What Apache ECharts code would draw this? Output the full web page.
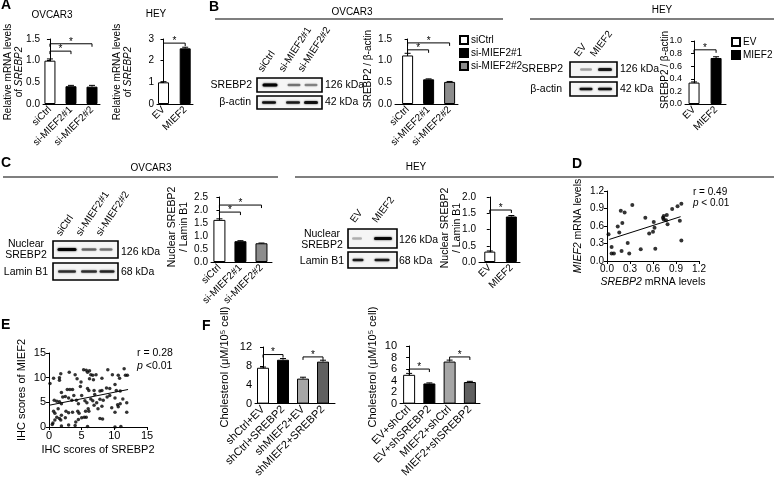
<!DOCTYPE html>
<html><head><meta charset="utf-8">
<script src="https://cdn.jsdelivr.net/npm/echarts@6/dist/echarts.min.js"></script>
<style>html,body{margin:0;padding:0;background:#fff}#c{width:774px;height:480px}</style>
</head><body><div id="c"></div>
<script>
// ---------------- DATA ----------------
const siCats = ['siCtrl', 'si-MIEF2#1', 'si-MIEF2#2'];
const heyCats = ['EV', 'MIEF2'];
const aOvcarVals = [1.0, 0.41, 0.40];
const aOvcarErr = [0.04, 0.02, 0.03];
const aOvcarSig = [[0, 1, 1.22], [0, 2, 1.39]];
const aHeyVals = [1.0, 2.57];
const aHeyErr = [0.03, 0.05];
const aHeySig = [[0, 1, 2.81]];
const bOvcarVals = [1.12, 0.57, 0.51];
const bOvcarErr = [0.05, 0.01, 0.01];
const bOvcarSig = [[0, 1, 1.25], [0, 2, 1.41]];
const bHeyVals = [0.34, 0.73];
const bHeyErr = [0.01, 0.02];
const bHeySig = [[0, 1, 0.86]];
const cOvcarVals = [1.62, 0.80, 0.72];
const cOvcarErr = [0.04, 0.02, 0.01];
const cOvcarSig = [[0, 1, 1.92], [0, 2, 2.19]];
const cHeyVals = [0.32, 1.40];
const cHeyErr = [0.02, 0.03];
const cHeySig = [[0, 1, 1.6]];
const fLeftCats = ['shCtrl+EV', 'shCtrl+SREBP2', 'shMIEF2+EV', 'shMIEF2+SREBP2'];
const fLeftVals = [7.6, 9.3, 5.3, 8.9];
const fLeftErr = [0.15, 0.25, 0.3, 0.3];
const fLeftSig = [[0, 1, 10.4], [2, 3, 9.9]];
const fRightCats = ['EV+shCtrl', 'EV+shSREBP2', 'MIEF2+shCtrl', 'MIEF2+shSREBP2'];
const fRightVals = [5.0, 3.5, 7.3, 3.75];
const fRightErr = [0.25, 0.1, 0.25, 0.12];
const fRightSig = [[0, 1, 6.0], [2, 3, 8.1]];
const dTicks = [0, 1.2, 0.3];
const dPoints = [[0.02,0.46],[0.06,0.24],[0.06,0.13],[0.09,0.13],[0.14,0.59],[0.16,0.49],[0.18,0.86],[0.23,0.83],[0.20,0.65],[0.19,0.17],[0.27,0.31],[0.29,0.13],[0.33,0.96],[0.44,0.20],[0.50,0.74],[0.55,0.47],[0.60,0.50],[0.62,0.57],[0.61,0.67],[0.63,0.21],[0.73,0.74],[0.74,0.71],[0.74,0.77],[0.78,0.79],[0.77,0.70],[0.79,0.63],[0.85,0.89],[0.92,0.94],[0.97,0.98],[0.95,0.69],[0.97,0.35]];
const dFit = [[0.03, 0.37], [0.96, 0.76]];
const eTicks = [0, 15, 5];
const ePoints = [[0.15,8.8],[0.7,9.9],[1.8,10.8],[1.6,10.0],[1.6,9.5],[3.1,11.1],[4.0,10.6],[4.3,9.8],[5.3,11.6],[5.7,11.5],[5.9,11.1],[6.2,11.4],[6.4,10.6],[6.7,10.5],[7.2,10.6],[6.2,9.8],[6.8,9.6],[4.9,9.1],[4.8,8.2],[9.0,11.6],[9.7,10.6],[10.6,10.5],[10.8,9.9],[11.5,11.8],[11.7,10.5],[12.0,10.5],[8.1,9.9],
[2.8,7.6],[3.2,7.6],[3.6,7.6],[5.9,7.8],[6.1,7.4],[6.9,7.4],[7.8,7.3],[8.1,7.4],[8.8,7.9],[9.3,7.8],[10.1,8.6],[10.3,7.4],[10.9,7.3],[1.9,7.0],
[0.8,5.4],[1.2,5.2],[1.6,5.1],[1.9,4.7],[2.1,6.1],[2.5,6.2],[3.0,5.9],[3.8,6.4],[4.2,5.4],[4.5,4.7],[5.5,5.3],[5.8,4.9],[6.4,5.7],[6.7,5.3],[7.0,6.6],[7.8,5.6],[8.3,5.4],[8.9,6.1],[9.3,6.4],[10.1,5.9],[10.9,4.7],[11.3,5.7],[11.9,4.9],[10.5,4.5],[7.3,4.9],[5.0,6.4],[3.5,5.4],
[0.7,3.2],[0.9,2.8],[1.4,3.7],[2.6,3.2],[3.0,2.9],[3.6,3.0],[4.4,3.2],[4.6,2.8],[5.6,3.2],[6.0,3.7],[6.1,3.2],[7.5,3.7],[8.1,4.2],[9.6,3.9],[10.1,3.0],[11.9,3.0],[10.6,4.1],[6.9,4.4],
[1.2,2.0],[1.6,1.7],[1.9,2.4],[1.8,1.4],[2.5,1.9],[4.5,1.5],[5.0,1.9],[5.4,2.0],[5.7,2.0],[7.8,1.7],[8.2,1.6],[4.1,1.0],[0.6,0.8],[0.9,1.4],
[0.5,0.5],[1.9,0.2],[3.0,0.4],[4.0,0.3],[5.9,0.1],[10.1,0.0],[11.0,0.1]];
const eFit = [[0, 4.4], [12.1, 7.6]];

// ---------------- STYLE ----------------
const FONT = '"Liberation Sans", Arial, sans-serif';
const WHITE = '#ffffff', BLACK = '#000000', GREY = '#8c8c8c', LGREY = '#a6a6a6', DGREY = '#606060';
const chart = echarts.init(document.getElementById('c'), null, {renderer: 'canvas'});

function errRender(params, api) {
  const x = api.value(0), v = api.value(1), e = api.value(2);
  const p0 = api.coord([x, v]), p1 = api.coord([x, v + e]);
  return {type: 'group', children: [
    {type: 'line', shape: {x1: p0[0], y1: p0[1], x2: p1[0], y2: p1[1]}, style: {stroke: '#000', lineWidth: 1}},
    {type: 'line', shape: {x1: p1[0] - 3, y1: p1[1], x2: p1[0] + 3, y2: p1[1]}, style: {stroke: '#000', lineWidth: 1}}
  ]};
}
function sigRender(params, api) {
  const a = api.coord([api.value(0), api.value(2)]), b = api.coord([api.value(1), api.value(2)]);
  const d = 3;
  return {type: 'group', children: [
    {type: 'polyline', shape: {points: [[a[0], a[1] + d], [a[0], a[1]], [b[0], b[1]], [b[0], b[1] + d]]}, style: {stroke: '#000', fill: null, lineWidth: 1}},
    {type: 'text', style: {text: '*', x: (a[0] + b[0]) / 2, y: a[1] + 3, align: 'center', textAlign: 'center', verticalAlign: 'bottom', textVerticalAlign: 'bottom', fontSize: 10, fontFamily: FONT, fill: '#000'}}
  ]};
}

const G = [];
function T(x, y, t, o) {
  o = o || {};
  const st = {text: t, x: 0, y: 0, fontSize: o.fs || 10, fontFamily: FONT, fill: '#000', fontWeight: o.fw || 'normal',
    align: o.al || 'left', textAlign: o.al || 'left', verticalAlign: o.va || 'middle', textVerticalAlign: o.va || 'middle',
    lineHeight: o.lh || 11};
  if (o.rich) st.rich = o.rich;
  G.push({type: 'text', x: x, y: y, rotation: (o.rot || 0) * Math.PI / 180, style: st, silent: true});
}
const richOf = (fs) => ({i: {fontStyle: 'italic', fontSize: fs, fontFamily: FONT, fill: '#000', lineHeight: fs + 1},
  n: {fontSize: fs, fontFamily: FONT, fill: '#000', lineHeight: fs + 1}});

const grids = [], xAxes = [], yAxes = [], series = [];
const nameStyle = (fs) => ({fontSize: fs, fontFamily: FONT, color: '#000', lineHeight: fs + 1,
  rich: {i: {fontStyle: 'italic', fontSize: fs, fontFamily: FONT, color: '#000', lineHeight: fs + 1}}});

function addBarChart(c) {
  const gi = grids.length;
  const fs = c.fs || 10;
  grids.push({left: c.left, top: c.top, width: c.width, height: c.height});
  xAxes.push({gridIndex: gi, type: 'value', min: c.xmin, max: c.xmax,
    axisLine: {show: true, onZero: false, lineStyle: {color: '#000', width: 1}},
    axisTick: {show: false}, splitLine: {show: false},
    axisLabel: {customValues: c.cats.map((_, i) => i), formatter: v => c.cats[Math.round(v)] || '', rotate: 45,
      fontSize: fs, fontFamily: FONT, color: '#000', margin: 4}});
  yAxes.push({gridIndex: gi, type: 'value', min: c.ymin, max: c.ymax, interval: c.interval,
    axisLine: {show: true, lineStyle: {color: '#000', width: 1}},
    axisTick: {show: true, length: 3, lineStyle: {color: '#000'}}, splitLine: {show: false},
    axisLabel: {formatter: v => v.toFixed(c.dec), fontSize: c.yfs || fs, fontFamily: FONT, color: '#000', margin: 3}});
  // y-axis title
  const nfs = c.nfs || 10;
  T(c.nx, c.ny, c.name, {rot: 90, al: 'center', va: 'middle', fs: nfs, lh: nfs + 1, rich: richOf(nfs)});
  c.vals.forEach((v, i) => {
    series.push({type: 'bar', name: c.names ? c.names[i] : ('bar' + gi + '_' + i), xAxisIndex: gi, yAxisIndex: gi,
      barWidth: c.barW, barGap: '-100%', data: [[i, v]], silent: true, animation: false,
      itemStyle: {color: c.colors[i], borderColor: '#000', borderWidth: 1}});
  });
  series.push({type: 'custom', xAxisIndex: gi, yAxisIndex: gi, renderItem: errRender, animation: false, z: 5,
    data: c.vals.map((v, i) => [i, v, c.errs[i]])});
  series.push({type: 'custom', xAxisIndex: gi, yAxisIndex: gi, renderItem: sigRender, animation: false, z: 5,
    data: c.sig});
}

function addScatter(c) {
  const gi = grids.length;
  const fs = c.fs;
  grids.push({left: c.left, top: c.top, width: c.width, height: c.height});
  const ax = (isX) => ({gridIndex: gi, type: 'value', min: c.ticks[0], max: c.ticks[1], interval: c.ticks[2],
    axisLine: {show: true, onZero: false, lineStyle: {color: '#000', width: 1}},
    axisTick: {show: true, length: 3, lineStyle: {color: '#000'}}, splitLine: {show: false},
    axisLabel: {formatter: v => v.toFixed(c.dec), fontSize: fs, fontFamily: FONT, color: '#000', margin: 3},
    name: isX ? c.xName : c.yName, nameLocation: 'middle', nameGap: isX ? c.xGap : c.yGap, nameMoveOverlap: false,
    nameRotate: isX ? 0 : 90, nameTextStyle: nameStyle(c.nfs)});
  xAxes.push(ax(true));
  yAxes.push(ax(false));
  series.push({type: 'scatter', xAxisIndex: gi, yAxisIndex: gi, data: c.points, symbolSize: c.sym, animation: false,
    itemStyle: {color: '#000'}, silent: true});
  series.push({type: 'line', xAxisIndex: gi, yAxisIndex: gi, data: c.fit, symbol: 'none', animation: false,
    lineStyle: {color: '#000', width: 1}, silent: true});
}

// A
addBarChart({left: 43, top: 39, width: 57, height: 65, xmin: -0.33, xmax: 2.38, cats: siCats, vals: aOvcarVals, errs: aOvcarErr,
  sig: aOvcarSig, colors: [WHITE, BLACK, BLACK], ymin: 0, ymax: 1.5, interval: 0.5, dec: 1, barW: 11,
  name: 'Relative mRNA levels\nof {i|SREBP2}', nx: 14, ny: 72});
addBarChart({left: 157, top: 39, width: 36, height: 65, xmin: -0.3, xmax: 1.36, cats: heyCats, vals: aHeyVals, errs: aHeyErr,
  sig: aHeySig, colors: [WHITE, BLACK], ymin: 0, ymax: 3, interval: 1, dec: 0, barW: 11,
  name: 'Relative mRNA levels\nof {i|SREBP2}', nx: 123, ny: 72});
// B
addBarChart({left: 395, top: 39, width: 63, height: 65, xmin: -0.6, xmax: 2.4, cats: siCats, vals: bOvcarVals, errs: bOvcarErr,
  sig: bOvcarSig, colors: [WHITE, BLACK, GREY], ymin: 0, ymax: 1.5, interval: 0.5, dec: 1, barW: 11,
  names: siCats, name: 'SREBP2 / β-actin', nx: 368, ny: 69});
addBarChart({left: 685, top: 41, width: 41, height: 63, xmin: -0.41, xmax: 1.45, cats: heyCats, vals: bHeyVals, errs: bHeyErr,
  sig: bHeySig, colors: [WHITE, BLACK], ymin: 0, ymax: 1.0, interval: 0.2, dec: 1, barW: 11, yfs: 9,
  names: heyCats, name: 'SREBP2 / β-actin', nx: 665, ny: 70});
// C
addBarChart({left: 211, top: 197, width: 61, height: 65, xmin: -0.4, xmax: 2.5, cats: siCats, vals: cOvcarVals, errs: cOvcarErr,
  sig: cOvcarSig, colors: [WHITE, BLACK, GREY], ymin: 0, ymax: 2.5, interval: 0.5, dec: 1, barW: 12, nfs: 10.5,
  name: 'Nuclear SREBP2\n/ Lamin B1', nx: 178, ny: 227});
addBarChart({left: 479, top: 197, width: 41, height: 65, xmin: -0.5, xmax: 1.4, cats: heyCats, vals: cHeyVals, errs: cHeyErr,
  sig: cHeySig, colors: [WHITE, BLACK], ymin: 0, ymax: 2.0, interval: 0.5, dec: 1, barW: 11, nfs: 10.5,
  name: 'Nuclear SREBP2\n/ Lamin B1', nx: 451, ny: 228});
// F
addBarChart({left: 255, top: 347, width: 80, height: 69, xmin: -0.4, xmax: 3.6, cats: fLeftCats, vals: fLeftVals, errs: fLeftErr,
  sig: fLeftSig, colors: [WHITE, BLACK, LGREY, DGREY], ymin: 0, ymax: 12, interval: 4, dec: 0, barW: 12, fs: 11, nfs: 11,
  name: 'Cholesterol (μM/10⁵ cell)', nx: 225, ny: 367});
addBarChart({left: 400, top: 346, width: 80, height: 70, xmin: -0.45, xmax: 3.5, cats: fRightCats, vals: fRightVals, errs: fRightErr,
  sig: fRightSig, colors: [WHITE, BLACK, LGREY, DGREY], ymin: 0, ymax: 10, interval: 2, dec: 0, barW: 12, fs: 11, nfs: 11,
  name: 'Cholesterol (μM/10⁵ cell)', nx: 373, ny: 367});
// D
addScatter({left: 607, top: 191, width: 92, height: 70, ticks: dTicks, dec: 1, fs: 10, nfs: 10.5, sym: 4,
  points: dPoints, fit: dFit, xName: '{i|SREBP2} mRNA levels', yName: '{i|MIEF2} mRNA levels', xGap: 15, yGap: 23});
// E
addScatter({left: 49, top: 353, width: 98, height: 74, ticks: eTicks, dec: 0, fs: 11, nfs: 11, sym: 3.5,
  points: ePoints, fit: eFit, xName: 'IHC scores of SREBP2', yName: 'IHC scores of MIEF2', xGap: 17, yGap: 21});

// ---------------- GRAPHIC (panel letters, headers, blots) ----------------
function L(x1, y1, x2, y2, w) {
  G.push({type: 'line', shape: {x1, y1, x2, y2}, style: {stroke: '#000', lineWidth: w || 1.2}, silent: true});
}
function blotBox(x, y, w, h, cy, bands) {
  G.push({type: 'rect', shape: {x, y, width: w, height: h}, style: {fill: '#f5f5f5', stroke: '#000', lineWidth: 1.6}, silent: true});
  bands.forEach(b => {
    const [cx, bw, a, bh] = b;
    G.push({type: 'rect', shape: {x: cx - bw / 2, y: cy - bh / 2, width: bw, height: bh, r: bh / 2},
      style: {fill: 'rgba(0,0,0,' + a + ')', shadowBlur: 2, shadowColor: 'rgba(0,0,0,' + a + ')'}, silent: true});
  });
}

// letters
T(1, 0, 'A', {fs: 14, fw: 'bold', va: 'top'});
T(209, 2, 'B', {fs: 14, fw: 'bold', va: 'top'});
T(1, 158, 'C', {fs: 14, fw: 'bold', va: 'top'});
T(572, 159, 'D', {fs: 14, fw: 'bold', va: 'top'});
T(1, 320, 'E', {fs: 14, fw: 'bold', va: 'top'});
T(202, 321, 'F', {fs: 14, fw: 'bold', va: 'top'});
// A headers
T(52, 15, 'OVCAR3', {al: 'center'});
T(156, 14, 'HEY', {al: 'center'});
// B headers
T(352, 12, 'OVCAR3', {al: 'center'});
L(215, 19, 503, 19);
T(662, 10, 'HEY', {al: 'center'});
L(530, 19, 774, 19);
// C headers
T(151, 168, 'OVCAR3', {al: 'center'});
L(3, 177, 278, 177);
T(416, 167, 'HEY', {al: 'center'});
L(295, 177, 774, 177);

// B OVCAR3 blot
blotBox(257, 78, 65, 14, 85, [[270, 15, 0.95, 3], [294, 13, 0.45, 2.5], [311, 13, 0.4, 2.5]]);
blotBox(257, 96, 65, 13, 102.5, [[269, 14, 0.85, 2.5], [293, 14, 0.8, 2.5], [311, 14, 0.85, 3]]);
T(252, 85, 'SREBP2', {al: 'right', fs: 10.5});
T(251, 102.5, 'β-actin', {al: 'right', fs: 10.5});
T(325, 85, '126 kDa', {fs: 10.5});
T(325, 102.5, '42 kDa', {fs: 10.5});
T(265, 74, 'siCtrl', {rot: 57, va: 'bottom'});
T(286, 74, 'si-MIEF2#1', {rot: 57, va: 'bottom'});
T(305, 74, 'si-MIEF2#2', {rot: 57, va: 'bottom'});
// B HEY blot
blotBox(570, 62, 47, 15, 69.5, [[586, 12, 0.3, 2.5], [605, 14, 0.8, 3]]);
blotBox(570, 82, 47, 14, 89, [[586, 13, 0.85, 2.5], [605, 14, 0.85, 2.5]]);
T(563, 69.5, 'SREBP2', {al: 'right', fs: 10.5});
T(562, 89, 'β-actin', {al: 'right', fs: 10.5});
T(620, 69.5, '126 kDa', {fs: 10.5});
T(620, 89, '42 kDa', {fs: 10.5});
T(581, 59, 'EV', {rot: 53, va: 'bottom'});
T(597, 59, 'MIEF2', {rot: 53, va: 'bottom'});
// C OVCAR3 blot
blotBox(53, 241, 65, 17, 249.5, [[67, 19, 0.95, 3], [89, 15, 0.5, 2.5], [106, 13, 0.45, 2.5]]);
blotBox(53, 263, 65, 17, 271.5, [[67, 18, 0.7, 2.5], [89, 16, 0.7, 2.5], [107, 15, 0.75, 2.5]]);
T(26, 250, 'Nuclear\nSREBP2', {al: 'center', fs: 10.5});
T(26, 272, 'Lamin B1', {al: 'center', fs: 10.5});
T(121, 252, '126 kDa', {fs: 10.5});
T(121, 272, '68 kDa', {fs: 10.5});
T(63, 238, 'siCtrl', {rot: 56, va: 'bottom'});
T(83, 238, 'si-MIEF2#1', {rot: 56, va: 'bottom'});
T(103, 238, 'si-MIEF2#2', {rot: 56, va: 'bottom'});
// C HEY blot
blotBox(348, 229, 49, 19, 238.5, [[357, 10, 0.25, 2.5], [383, 18, 0.9, 3]]);
blotBox(348, 252, 49, 16, 260, [[358, 11, 0.8, 2.5], [382, 15, 0.8, 2.5]]);
T(322, 240, 'Nuclear\nSREBP2', {al: 'center', fs: 10.5});
T(322, 261, 'Lamin B1', {al: 'center', fs: 10.5});
T(399, 240, '126 kDa', {fs: 10.5});
T(399, 261, '68 kDa', {fs: 10.5});
T(357, 225, 'EV', {rot: 53, va: 'bottom'});
T(379, 225, 'MIEF2', {rot: 53, va: 'bottom'});
// D / E stats
T(693, 192, 'r = 0.49');
T(693, 203, '{i|p} < 0.01', {rich: richOf(10)});
T(137, 353, 'r = 0.28', {fs: 10.5});
T(137, 366, '{i|p} <0.01', {rich: richOf(10.5), fs: 10.5});

const legendBase = {orient: 'vertical', itemWidth: 8, itemHeight: 8, itemGap: 3, padding: 0, icon: 'rect',
  textStyle: {fontSize: 10, fontFamily: FONT, color: '#000', padding: [0, 0, 0, -2]}, selectedMode: false};

chart.setOption({
  animation: false,
  textStyle: {fontFamily: FONT},
  grid: grids, xAxis: xAxes, yAxis: yAxes, series: series,
  legend: [
    Object.assign({}, legendBase, {left: 459, top: 35, data: siCats}),
    Object.assign({}, legendBase, {left: 731, top: 37, data: heyCats})
  ],
  graphic: {elements: G}
});
</script>
</body></html>
